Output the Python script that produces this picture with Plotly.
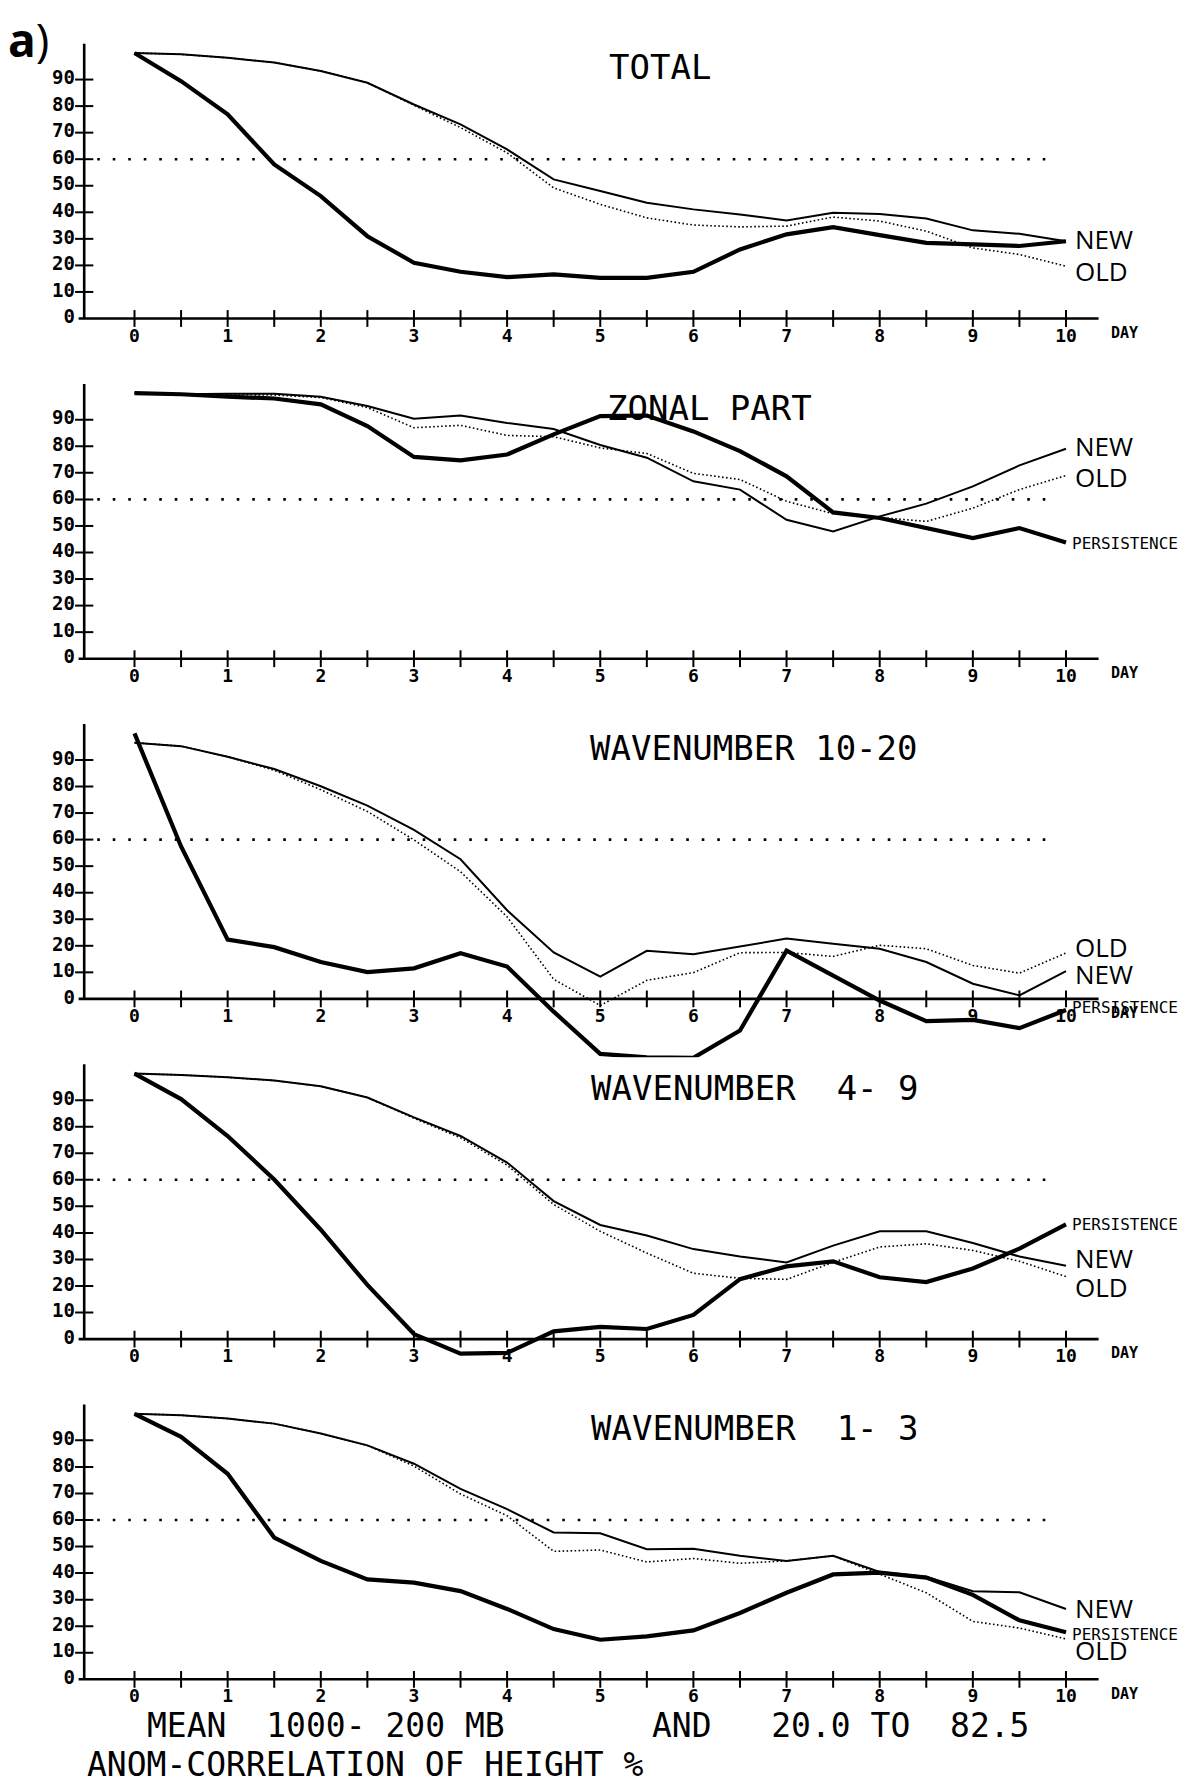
import plotly.graph_objects as go

# forecast day axis (every half day)
DAYS = [0, 0.5, 1, 1.5, 2, 2.5, 3, 3.5, 4, 4.5, 5, 5.5, 6, 6.5, 7, 7.5, 8, 8.5, 9, 9.5, 10]
DAY_LABELS = [0, 1, 2, 3, 4, 5, 6, 7, 8, 9, 10]
Y_TICKS = [10, 20, 30, 40, 50, 60, 70, 80, 90]
Y_LABELS = [0, 10, 20, 30, 40, 50, 60, 70, 80, 90]
THRESHOLD = 60

PANEL_TITLES = ["TOTAL", "ZONAL PART", "WAVENUMBER 10-20", "WAVENUMBER  4- 9", "WAVENUMBER  1- 3"]

# anomaly correlation (%) per panel
TOTAL_NEW = [100, 99.5, 98.2, 96.4, 93.2, 88.8, 80.6, 73.1, 63.7, 52.4, 48.0, 43.6, 41.1, 39.2, 36.9, 39.8, 39.4, 37.7, 33.2, 31.9, 29.1]
TOTAL_OLD = [100, 99.5, 98.2, 96.4, 93.2, 88.8, 80.3, 71.9, 62.4, 49.2, 43.0, 37.9, 35.2, 34.5, 34.8, 38.2, 36.7, 32.9, 26.6, 24.1, 19.7]
TOTAL_PERS = [100, 89.4, 76.9, 58.0, 46.1, 31.0, 21.0, 17.6, 15.6, 16.6, 15.3, 15.3, 17.6, 26.0, 31.7, 34.4, 31.4, 28.5, 27.9, 27.3, 29.1]

ZONAL_NEW = [100, 99.6, 99.8, 99.8, 98.7, 95.2, 90.4, 91.6, 88.8, 86.5, 80.5, 75.7, 66.8, 63.7, 52.3, 47.9, 53.6, 58.4, 64.9, 72.8, 79.1]
ZONAL_OLD = [100, 99.6, 99.5, 99.3, 98.4, 94.6, 87.0, 87.9, 84.1, 83.6, 79.4, 77.3, 69.8, 67.5, 59.3, 54.6, 53.2, 51.7, 56.7, 63.7, 69.0]
ZONAL_PERS = [100, 99.6, 98.7, 98.0, 95.8, 87.6, 76.0, 74.7, 76.9, 84.5, 91.4, 91.6, 85.6, 78.2, 68.7, 55.1, 53.0, 49.2, 45.4, 49.2, 43.8]

W1020_NEW = [96.5, 95.2, 91.2, 86.6, 80.1, 72.8, 63.7, 52.6, 33.4, 17.5, 8.4, 18.1, 16.8, 19.8, 22.7, 20.8, 18.9, 13.9, 5.7, 1.3, 10.5]
W1020_OLD = [96.5, 95.2, 91.2, 86.1, 78.8, 70.6, 59.9, 47.9, 30.9, 7.4, -2.5, 7.0, 9.9, 17.4, 17.5, 16.0, 20.2, 18.9, 12.6, 9.7, 17.3]
W1020_PERS = [100, 57.4, 22.3, 19.5, 13.9, 10.1, 11.5, 17.2, 12.2, -4.8, -20.7, -22.0, -22.2, -11.9, 18.2, 9.0, -0.6, -8.4, -7.9, -11.0, -4.2]

W49_NEW = [100, 99.5, 98.6, 97.4, 95.2, 91.0, 83.5, 76.5, 66.5, 52.0, 43.0, 39.0, 33.9, 31.1, 28.9, 35.2, 40.6, 40.6, 36.2, 31.1, 27.6]
W49_OLD = [100, 99.5, 98.6, 97.4, 95.2, 91.0, 83.2, 75.8, 65.5, 50.7, 40.6, 32.4, 24.8, 22.9, 22.5, 28.9, 34.7, 35.9, 33.4, 29.3, 23.6]
W49_PERS = [100, 90.4, 76.5, 60.1, 41.2, 20.4, 1.9, -5.5, -5.2, 2.9, 4.6, 3.8, 9.1, 22.6, 27.4, 29.3, 23.3, 21.5, 26.6, 34.1, 43.2]

W13_NEW = [100, 99.5, 98.2, 96.3, 92.6, 88.1, 81.2, 71.7, 64.1, 55.3, 55.0, 49.0, 49.2, 46.5, 44.6, 46.5, 40.4, 38.6, 33.2, 32.8, 26.5]
W13_OLD = [100, 99.5, 98.2, 96.3, 92.6, 88.1, 80.3, 69.8, 61.6, 48.2, 48.7, 44.2, 45.5, 43.7, 44.6, 46.5, 39.6, 32.6, 21.8, 19.3, 15.2]
W13_PERS = [100, 91.3, 77.4, 53.4, 44.6, 37.6, 36.4, 33.2, 26.5, 18.9, 14.9, 16.2, 18.4, 25.0, 32.6, 39.5, 40.2, 38.3, 31.8, 22.2, 17.7]

PANELS = [
    (TOTAL_NEW, TOTAL_OLD, TOTAL_PERS),
    (ZONAL_NEW, ZONAL_OLD, ZONAL_PERS),
    (W1020_NEW, W1020_OLD, W1020_PERS),
    (W49_NEW, W49_OLD, W49_PERS),
    (W13_NEW, W13_OLD, W13_PERS),
]

# end-of-line label heights (value units), None = not labelled
NEW_LABEL_Y = [29.8, 80.3, 9.4, 30.4, 26.7]
OLD_LABEL_Y = [18.0, 68.4, 19.4, 19.7, 11.0]
PERS_LABEL_Y = [None, 43.5, -3.4, 43.0, 16.7]
TITLE_X = [5.07, 5.05, 4.87, 4.88, 4.88]

# ---- geometry (pixels of the 1198 x 1787 page) ----
W, H = 1198, 1787
DAY0_PX, PX_PER_DAY = 134.5, 93.15
ZERO_PX = [318.5, 658.7, 998.9, 1339.1, 1679.3]
PX_PER_UNIT = 2.655
Y_LO, Y_HI = -22, 106
XMIN = -DAY0_PX / PX_PER_DAY
XMAX = (W - DAY0_PX) / PX_PER_DAY

PLOTTER = "DejaVu Sans Mono"
SANS = "Open Sans"
INK = "black"


def paper_y(px):
    return 1 - px / H


fig = go.Figure()
layout = dict(
    width=W, height=H,
    margin=dict(l=0, r=0, t=0, b=0),
    plot_bgcolor="white", paper_bgcolor="white",
    showlegend=False,
)
shapes = []
annotations = []

for i, (new, old, pers) in enumerate(PANELS):
    n = "" if i == 0 else str(i + 1)
    xa, ya = "x" + n, "y" + n
    top_px = ZERO_PX[i] - Y_HI * PX_PER_UNIT
    bot_px = ZERO_PX[i] - Y_LO * PX_PER_UNIT
    layout["xaxis" + n] = dict(domain=[0, 1], range=[XMIN, XMAX], visible=False, anchor=ya)
    layout["yaxis" + n] = dict(domain=[paper_y(bot_px), paper_y(top_px)], range=[Y_LO, Y_HI],
                               visible=False, anchor=xa)

    # dotted 60% reference line
    fig.add_trace(go.Scatter(x=[-0.4, 9.9], y=[THRESHOLD, THRESHOLD], xaxis=xa, yaxis=ya,
                             mode="lines", line=dict(color=INK, width=2.6, dash="2.6px,12.9px"),
                             hoverinfo="skip"))
    # axes
    shapes.append(dict(type="line", xref=xa, yref=ya, x0=-0.6, x1=10.35, y0=0, y1=0,
                       line=dict(color=INK, width=2.6)))
    shapes.append(dict(type="line", xref=xa, yref=ya, x0=-0.54, x1=-0.54, y0=0, y1=103.5,
                       line=dict(color=INK, width=2.6)))
    fig.add_trace(go.Scatter(x=DAYS, y=[0] * len(DAYS), xaxis=xa, yaxis=ya, mode="markers",
                             marker=dict(symbol="line-ns", size=12, line=dict(color=INK, width=2)),
                             hoverinfo="skip"))
    fig.add_trace(go.Scatter(x=[-0.54] * len(Y_TICKS), y=Y_TICKS, xaxis=xa, yaxis=ya, mode="markers",
                             marker=dict(symbol="line-ew", size=13, line=dict(color=INK, width=2)),
                             hoverinfo="skip"))
    fig.add_trace(go.Scatter(x=DAY_LABELS, y=[-7.0] * len(DAY_LABELS), xaxis=xa, yaxis=ya,
                             mode="text", text=["<b>%d</b>" % d for d in DAY_LABELS],
                             textposition="middle center", cliponaxis=False,
                             textfont=dict(family=PLOTTER, size=18, color=INK), hoverinfo="skip"))
    fig.add_trace(go.Scatter(x=[-0.64] * len(Y_LABELS), y=Y_LABELS, xaxis=xa, yaxis=ya,
                             mode="text", text=["<b>%d</b>" % v for v in Y_LABELS],
                             textposition="middle left", cliponaxis=False,
                             textfont=dict(family=PLOTTER, size=19, color=INK), hoverinfo="skip"))

    # forecast curves
    fig.add_trace(go.Scatter(x=DAYS, y=old, xaxis=xa, yaxis=ya, mode="lines", name="OLD",
                             line=dict(color=INK, width=1.6, dash="1.6px,2.4px")))
    fig.add_trace(go.Scatter(x=DAYS, y=new, xaxis=xa, yaxis=ya, mode="lines", name="NEW",
                             line=dict(color=INK, width=2)))
    fig.add_trace(go.Scatter(x=DAYS, y=pers, xaxis=xa, yaxis=ya, mode="lines", name="PERSISTENCE",
                             line=dict(color=INK, width=4.2)))

    # texts
    annotations.append(dict(text=PANEL_TITLES[i], xref=xa, yref=ya, x=TITLE_X[i], y=94.6,
                            xanchor="left", yanchor="middle", showarrow=False,
                            font=dict(family=PLOTTER, size=34, color=INK)))
    annotations.append(dict(text="<b>DAY</b>", xref=xa, yref=ya, x=10.46, y=-5.4,
                            xanchor="left", yanchor="middle", showarrow=False,
                            font=dict(family=PLOTTER, size=15, color=INK)))
    if PERS_LABEL_Y[i] is not None:
        annotations.append(dict(text="PERSISTENCE", xref=xa, yref=ya, x=10.04, y=PERS_LABEL_Y[i],
                                xanchor="left", yanchor="middle", showarrow=False,
                                font=dict(family=PLOTTER, size=16, color=INK)))
    for lbl, yv in (("NEW", NEW_LABEL_Y[i]), ("OLD", OLD_LABEL_Y[i])):
        annotations.append(dict(text=lbl, xref=xa, yref=ya, x=10.07, y=yv,
                                xanchor="left", yanchor="middle", showarrow=False,
                                font=dict(family=SANS, size=26, color=INK)))

# panel letter and footer
annotations.append(dict(text="<b>a</b>)", xref="paper", yref="paper", x=6 / W, y=paper_y(6),
                        xanchor="left", yanchor="top", showarrow=False,
                        font=dict(family=SANS, size=46, color=INK)))
footer = [
    ("MEAN  1000- 200 MB", 145, 1725),
    ("AND   20.0 TO  82.5", 650, 1725),
    ("ANOM-CORRELATION OF HEIGHT %", 85, 1764),
]
for txt, xpx, ypx in footer:
    annotations.append(dict(text=txt, xref="paper", yref="paper", x=xpx / W, y=paper_y(ypx),
                            xanchor="left", yanchor="middle", showarrow=False,
                            font=dict(family=PLOTTER, size=33, color=INK)))

layout["shapes"] = shapes
layout["annotations"] = annotations
fig.update_layout(**layout)

fig.write_html("out.html", config={"displayModeBar": False},
               post_script="document.body.style.margin='0';")
